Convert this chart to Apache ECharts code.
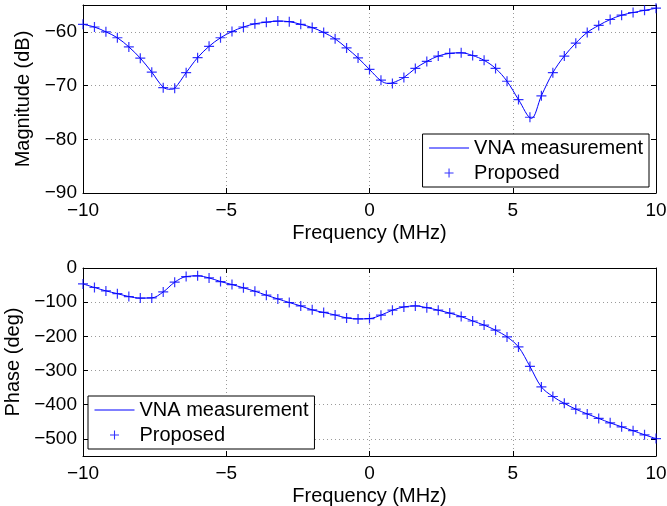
<!DOCTYPE html>
<html><head><meta charset="utf-8">
<script src="https://cdn.jsdelivr.net/npm/echarts@6/dist/echarts.min.js"></script>
<style>html,body{margin:0;padding:0;background:#fff}#c{width:667px;height:506px}</style>
</head><body><div id="c"></div>
<script>
// Frequency grid of the "Proposed" markers (MHz)
const freq = [-10,-9.6,-9.2,-8.8,-8.4,-8.0,-7.6,-7.2,-6.8,-6.4,-6.0,-5.6,-5.2,-4.8,-4.4,-4.0,-3.6,-3.2,-2.8,-2.4,-2.0,-1.6,-1.2,-0.8,-0.4,0.0,0.4,0.8,1.2,1.6,2.0,2.4,2.8,3.2,3.6,4.0,4.4,4.8,5.2,5.6,6.0,6.4,6.8,7.2,7.6,8.0,8.4,8.8,9.2,9.6,10];
const magProposed = [-58.6,-59.1,-60.0,-61.1,-62.8,-64.9,-67.5,-70.4,-70.5,-67.6,-64.8,-62.7,-61.1,-59.95,-59.1,-58.5,-58.2,-58.0,-58.1,-58.6,-59.2,-60.1,-61.3,-63.0,-64.85,-67.0,-69.0,-69.6,-68.5,-66.8,-65.5,-64.5,-64.0,-63.9,-64.4,-65.3,-66.8,-69.2,-72.6,-75.9,-71.9,-67.6,-64.5,-62.1,-60.1,-58.8,-57.7,-56.9,-56.4,-56.0,-55.6];
const phaseProposed = [-46.5,-57,-67,-75,-83.5,-88,-87.5,-70,-41.6,-25,-23,-29,-39.6,-48.4,-58,-68,-79.6,-90.4,-101,-111,-122.5,-130,-137.5,-146,-149,-148,-138,-123.5,-114,-111,-116,-123.5,-132,-142,-155,-167,-182,-201.5,-231,-288,-348,-376,-396,-413,-427,-440,-453,-464.6,-476,-488,-499];
// VNA measurement (solid line)
const measMagFreq = [-10,-9.6,-9.2,-8.8,-8.4,-8.0,-7.6,-7.2,-6.95,-6.8,-6.4,-6.0,-5.6,-5.2,-4.8,-4.4,-4.0,-3.6,-3.2,-2.8,-2.4,-2.0,-1.6,-1.2,-0.8,-0.4,0.0,0.4,0.65,0.8,1.2,1.6,2.0,2.4,2.8,3.2,3.6,4.0,4.4,4.8,5.2,5.65,6.0,6.4,6.8,7.2,7.6,8.0,8.4,8.8,9.2,9.6,10];
const measMag = [-58.6,-59.1,-60.0,-61.1,-62.8,-64.9,-67.5,-70.3,-70.7,-70.5,-67.6,-64.8,-62.7,-61.1,-59.95,-59.1,-58.5,-58.2,-58.0,-58.1,-58.6,-59.2,-60.1,-61.3,-63.0,-64.85,-67.0,-69.1,-69.6,-69.5,-68.5,-66.8,-65.5,-64.5,-64.0,-63.9,-64.4,-65.3,-66.8,-69.2,-72.6,-76.1,-71.9,-67.6,-64.5,-62.1,-60.1,-58.8,-57.7,-56.9,-56.4,-56.0,-55.6];
const measPhaseFreq = freq;
const measPhase = phaseProposed;
const xTicks = [-10,-5,0,5,10];
const magTicks = [-90,-80,-70,-60];
const phaseTicks = [-500,-400,-300,-200,-100,0];

const FONT = 'Liberation Sans';
const BLUE = '#0000ff';
const fmt = v => String(v).replace('-', '\u2212');
const pair = (xs, ys) => xs.map((x, i) => [x, ys[i]]);
const plus = 'path://M4.4,0H5.6V4.4H10V5.6H5.6V10H4.4V5.6H0V4.4H4.4Z';

function xAx(gi, top) {
  return {
    type: 'value', gridIndex: gi, min: -10, max: 10,
    position: top ? 'top' : 'bottom',
    name: top ? '' : 'Frequency (MHz)', nameLocation: 'middle', nameGap: 30,
    nameTextStyle: {fontFamily: FONT, fontSize: 20, color: '#000'},
    axisLine: {show: true, onZero: false, lineStyle: {color: '#000', width: 1}},
    axisTick: {show: true, inside: true, length: 5, customValues: xTicks, lineStyle: {color: '#000'}},
    axisLabel: {show: !top, customValues: xTicks, formatter: fmt, fontFamily: FONT, fontSize: 19, color: '#000', margin: 8},
    splitLine: {show: !top, lineStyle: {color: '#9a9a9a', type: [1, 3], width: 1}}
  };
}
function yAx(gi, right, min, max, ticks, name, nameGap) {
  return {
    type: 'value', gridIndex: gi, min: min, max: max,
    position: right ? 'right' : 'left',
    name: right ? '' : name, nameLocation: 'middle', nameGap: nameGap,
    nameTextStyle: {fontFamily: FONT, fontSize: 20, color: '#000'},
    axisLine: {show: true, onZero: false, lineStyle: {color: '#000', width: 1}},
    axisTick: {show: true, inside: true, length: 5, customValues: ticks, lineStyle: {color: '#000'}},
    axisLabel: {show: !right, customValues: ticks, formatter: fmt, fontFamily: FONT, fontSize: 19, color: '#000', margin: 6},
    splitLine: {show: !right, lineStyle: {color: '#9a9a9a', type: [1, 3], width: 1}}
  };
}
function legendItems() {
  return [
    {name: 'VNA measurement', itemStyle: {opacity: 0}, lineStyle: {width: 1, color: BLUE}},
    {name: 'Proposed'}
  ];
}
function legend(pos) {
  return Object.assign({
    data: legendItems(), orient: 'vertical',
    itemWidth: 40, itemHeight: 9, itemGap: 5,
    padding: [4, 6, 4, 6], borderColor: '#000', borderWidth: 1, backgroundColor: '#fff',
    textStyle: {fontFamily: FONT, fontSize: 20, color: '#000', lineHeight: 20}, selectedMode: false
  }, pos);
}

const chart = echarts.init(document.getElementById('c'), null, {renderer: 'canvas'});
chart.setOption({
  animation: false,
  backgroundColor: '#fff',
  grid: [
    {left: 83, right: 11, top: 5, height: 188, outerBoundsMode: 'none', containLabel: false},
    {left: 83, right: 11, top: 268, height: 188, outerBoundsMode: 'none', containLabel: false}
  ],
  xAxis: [xAx(0, false), xAx(0, true), xAx(1, false), xAx(1, true)],
  yAxis: [
    yAx(0, false, -90, -55, magTicks, 'Magnitude (dB)', 47),
    yAx(0, true, -90, -55, magTicks, '', 0),
    yAx(1, false, -550, 0, phaseTicks, 'Phase (deg)', 56),
    yAx(1, true, -550, 0, phaseTicks, '', 0)
  ],
  legend: [legend({right: 18, top: 134}), legend({left: 88, top: 396})],
  series: [
    {name: 'VNA measurement', type: 'line', xAxisIndex: 0, yAxisIndex: 0, data: pair(measMagFreq, measMag),
     smooth: 0.35, symbol: 'none', lineStyle: {color: BLUE, width: 1}, itemStyle: {color: BLUE}, z: 3},
    {name: 'Proposed', type: 'scatter', xAxisIndex: 0, yAxisIndex: 0, data: pair(freq, magProposed),
     symbol: plus, symbolSize: 10, symbolKeepAspect: true, itemStyle: {color: BLUE}, z: 4},
    {name: 'VNA measurement', type: 'line', xAxisIndex: 2, yAxisIndex: 2, data: pair(measPhaseFreq, measPhase),
     smooth: 0.35, symbol: 'none', lineStyle: {color: BLUE, width: 1}, itemStyle: {color: BLUE}, z: 3},
    {name: 'Proposed', type: 'scatter', xAxisIndex: 2, yAxisIndex: 2, data: pair(freq, phaseProposed),
     symbol: plus, symbolSize: 10, symbolKeepAspect: true, itemStyle: {color: BLUE}, z: 4}
  ]
});
</script></body></html>
